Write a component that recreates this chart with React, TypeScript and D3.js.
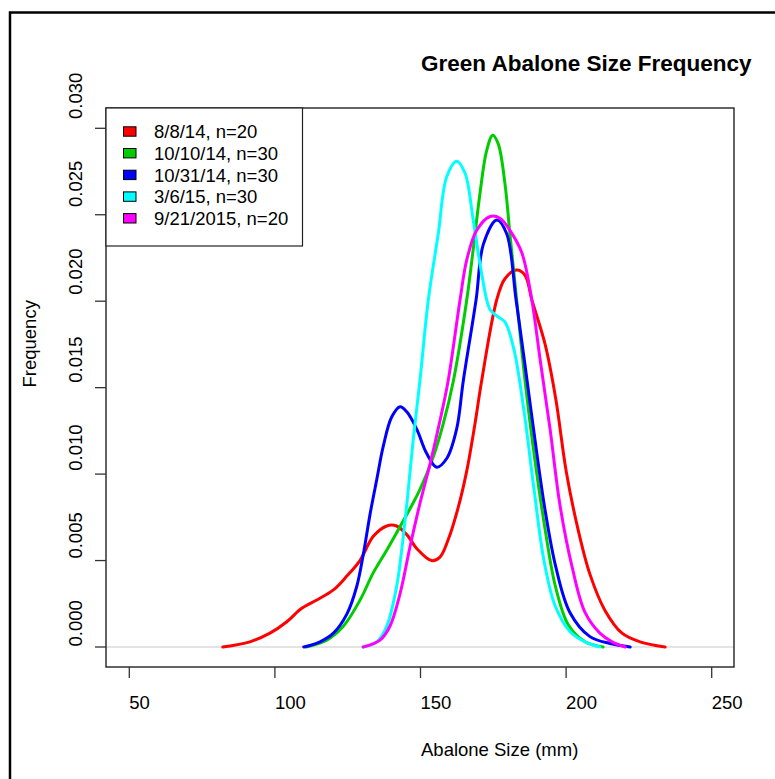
import React from "react";
import * as d3 from "d3";

// density curves: [size mm, density]
const red: [number, number][] = [
  [82.1, 0], [91.4, 0.0003], [98.3, 0.0008], [104.1, 0.00146], [109.2, 0.00224],
  [114.4, 0.00272], [120.1, 0.0033], [124.7, 0.0041], [129.2, 0.005], [133.8, 0.0064],
  [138.4, 0.007], [141.8, 0.007], [145.3, 0.0065], [148.7, 0.0057], [153.8, 0.005],
  [156.7, 0.0052], [159.5, 0.0062], [163.0, 0.0081], [165.9, 0.0102], [168.7, 0.0129],
  [171.0, 0.0154], [176.2, 0.0201], [179.0, 0.0213], [183.0, 0.0218], [185.9, 0.0215],
  [188.2, 0.0201], [192.8, 0.0175], [196.5, 0.0143], [200.0, 0.0102], [204.1, 0.0068],
  [208.2, 0.0042], [213.4, 0.0021], [219.2, 0.0008], [225.4, 0.0003], [234.0, 0],
];
const green: [number, number][] = [
  [110.7, 0], [117.8, 0.0004], [123.5, 0.0012], [129.2, 0.0027], [133.8, 0.0043],
  [138.4, 0.0056], [144.1, 0.0073], [149.8, 0.0091], [154.4, 0.011], [157.8, 0.0129],
  [161.3, 0.0154], [165.9, 0.0201], [168.1, 0.023], [170.4, 0.0262], [172.7, 0.0287],
  [174.8, 0.0296], [176.7, 0.0291], [179.0, 0.0268], [180.7, 0.0239], [183.0, 0.0201],
  [185.9, 0.0154], [189.3, 0.0108], [192.8, 0.0068], [196.2, 0.0036], [200.7, 0.0013],
  [206.5, 0.0003], [212.7, 0],
];
const blue: [number, number][] = [
  [109.9, 0], [115.5, 0.0003], [120.1, 0.0008], [124.7, 0.0019], [128.1, 0.0035],
  [130.4, 0.0054], [132.7, 0.0077], [135.0, 0.0097], [137.2, 0.0116], [140.1, 0.0133],
  [143.0, 0.0139], [145.3, 0.0136], [148.7, 0.0126], [152.1, 0.0112], [155.6, 0.0104],
  [159.0, 0.0109], [162.4, 0.0126], [164.7, 0.0154], [169.1, 0.0201], [171.6, 0.0233],
  [176.2, 0.0247], [179.6, 0.0239], [182.8, 0.0201], [185.9, 0.0163], [189.3, 0.012],
  [192.8, 0.0079], [196.5, 0.0046], [201.3, 0.002], [208.2, 0.0006], [215.1, 0.0002],
  [222.0, 0],
];
const cyan: [number, number][] = [
  [130.3, 0], [135.0, 0.0003], [138.4, 0.0012], [141.8, 0.0035], [144.1, 0.0064],
  [145.8, 0.0091], [147.5, 0.012], [149.8, 0.0154], [152.7, 0.0201], [156.1, 0.0239],
  [159.0, 0.0272], [162.4, 0.0281], [165.3, 0.0274], [168.1, 0.0247], [171.0, 0.0216],
  [173.9, 0.0195], [176.6, 0.0191], [179.0, 0.0188], [182.1, 0.0172], [185.5, 0.0137],
  [189.0, 0.0091], [192.4, 0.005], [196.2, 0.0024], [201.3, 0.0009], [206.5, 0.0003],
  [211.6, 0],
];
const magenta: [number, number][] = [
  [130.3, 0], [136.1, 0.0004], [139.5, 0.0012], [143.0, 0.0031], [146.4, 0.0058],
  [149.8, 0.0083], [153.3, 0.0106], [156.7, 0.0131], [159.5, 0.0154], [163.6, 0.0201],
  [165.9, 0.0224], [169.3, 0.0241], [173.9, 0.0249], [177.3, 0.0248], [180.7, 0.0241],
  [184.8, 0.0228], [188.2, 0.0201], [191.1, 0.0166], [194.5, 0.0126], [197.9, 0.0082],
  [202.1, 0.0046], [206.5, 0.002], [211.6, 0.0008], [215.8, 0.0003], [220.3, 0],
];

const seriesLabels = ["8/8/14, n=20", "10/10/14, n=30", "10/31/14, n=30", "3/6/15, n=30", "9/21/2015, n=20"];
const seriesColors = ["#ff0000", "#00cd00", "#0000ff", "#00ffff", "#ff00ff"];
const seriesData = [red, green, blue, cyan, magenta];

const xTicks = [50, 100, 150, 200, 250];
const yTicks = [0, 0.005, 0.01, 0.015, 0.02, 0.025, 0.03];

const font = "'Liberation Sans', Arial, Helvetica, sans-serif";

export default function App() {
  // plot box in page pixels
  const box = { left: 106, right: 734, top: 108, bottom: 667 };

  const x = d3.scaleLinear().domain([50, 250]).range([129.3, 711.7]);
  const y = d3.scaleLinear().domain([0, 0.03]).range([647, 128.3]);
  // tick labels sit a little apart from their ticks in the picture
  const yLab = d3.scaleLinear().domain([0, 0.03]).range([646.5, 119]);

  const line = d3
    .line<[number, number]>()
    .x((d) => x(d[0]))
    .y((d) => y(d[1]))
    .curve(d3.curveCatmullRom.alpha(0.5));

  const midX = (box.left + box.right) / 2;
  const midY = (box.top + box.bottom) / 2;

  return (
    <svg
      width={775}
      height={779}
      style={{ position: "absolute", left: 0, top: 0, background: "#fff" }}
      fontFamily={font}
    >
      <rect x={0} y={0} width={775} height={779} fill="#fff" />
      {/* outer frame, runs off the right and bottom edges */}
      <rect x={10} y={12.5} width={800} height={800} fill="none" stroke="#000" strokeWidth={2.5} />

      <text x={421} y={71} fontSize={22.5} fontWeight="bold" fill="#000">
        Green Abalone Size Frequency
      </text>

      {/* zero line */}
      <line x1={box.left} x2={box.right} y1={y(0)} y2={y(0)} stroke="#c8c8c8" strokeWidth={1} />

      {seriesData.map((d, i) => (
        <path key={i} d={line(d) || ""} fill="none" stroke={seriesColors[i]} strokeWidth={3} strokeLinejoin="round" strokeLinecap="round" />
      ))}

      <rect
        x={box.left}
        y={box.top}
        width={box.right - box.left}
        height={box.bottom - box.top}
        fill="none"
        stroke="#222"
        strokeWidth={1.4}
      />

      {/* x axis */}
      {xTicks.map((t) => (
        <g key={t}>
          <line x1={x(t)} x2={x(t)} y1={box.bottom} y2={box.bottom + 11} stroke="#333" strokeWidth={1.3} />
          <text x={x(t)} y={709} fontSize={18.5} fill="#000">
            {t}
          </text>
        </g>
      ))}
      <text x={midX + 1} y={756} fontSize={18.5} fill="#000">
        Abalone Size (mm)
      </text>

      {/* y axis */}
      {yTicks.map((t) => (
        <g key={t}>
          <line x1={box.left - 11} x2={box.left} y1={y(t)} y2={y(t)} stroke="#333" strokeWidth={1.3} />
          <text transform={`translate(81.5,${yLab(t)}) rotate(-90)`} fontSize={18.5} fill="#000">
            {t.toFixed(3)}
          </text>
        </g>
      ))}
      <text transform={`translate(35.5,${midY}) rotate(-90)`} fontSize={18.5} fill="#000">
        Frequency
      </text>

      {/* legend */}
      <rect x={box.left} y={box.top} width={196.5} height={138} fill="#fff" stroke="#222" strokeWidth={1.2} />
      {seriesLabels.map((s, i) => {
        const cy = 131.5 + i * 21.7;
        return (
          <g key={s}>
            <rect x={123.5} y={cy - 4.7} width={12.5} height={9.4} fill={seriesColors[i]} stroke="#000" strokeWidth={1} />
            <text x={154} y={cy + 6.6} fontSize={18.5} fill="#000">
              {s}
            </text>
          </g>
        );
      })}
    </svg>
  );
}
